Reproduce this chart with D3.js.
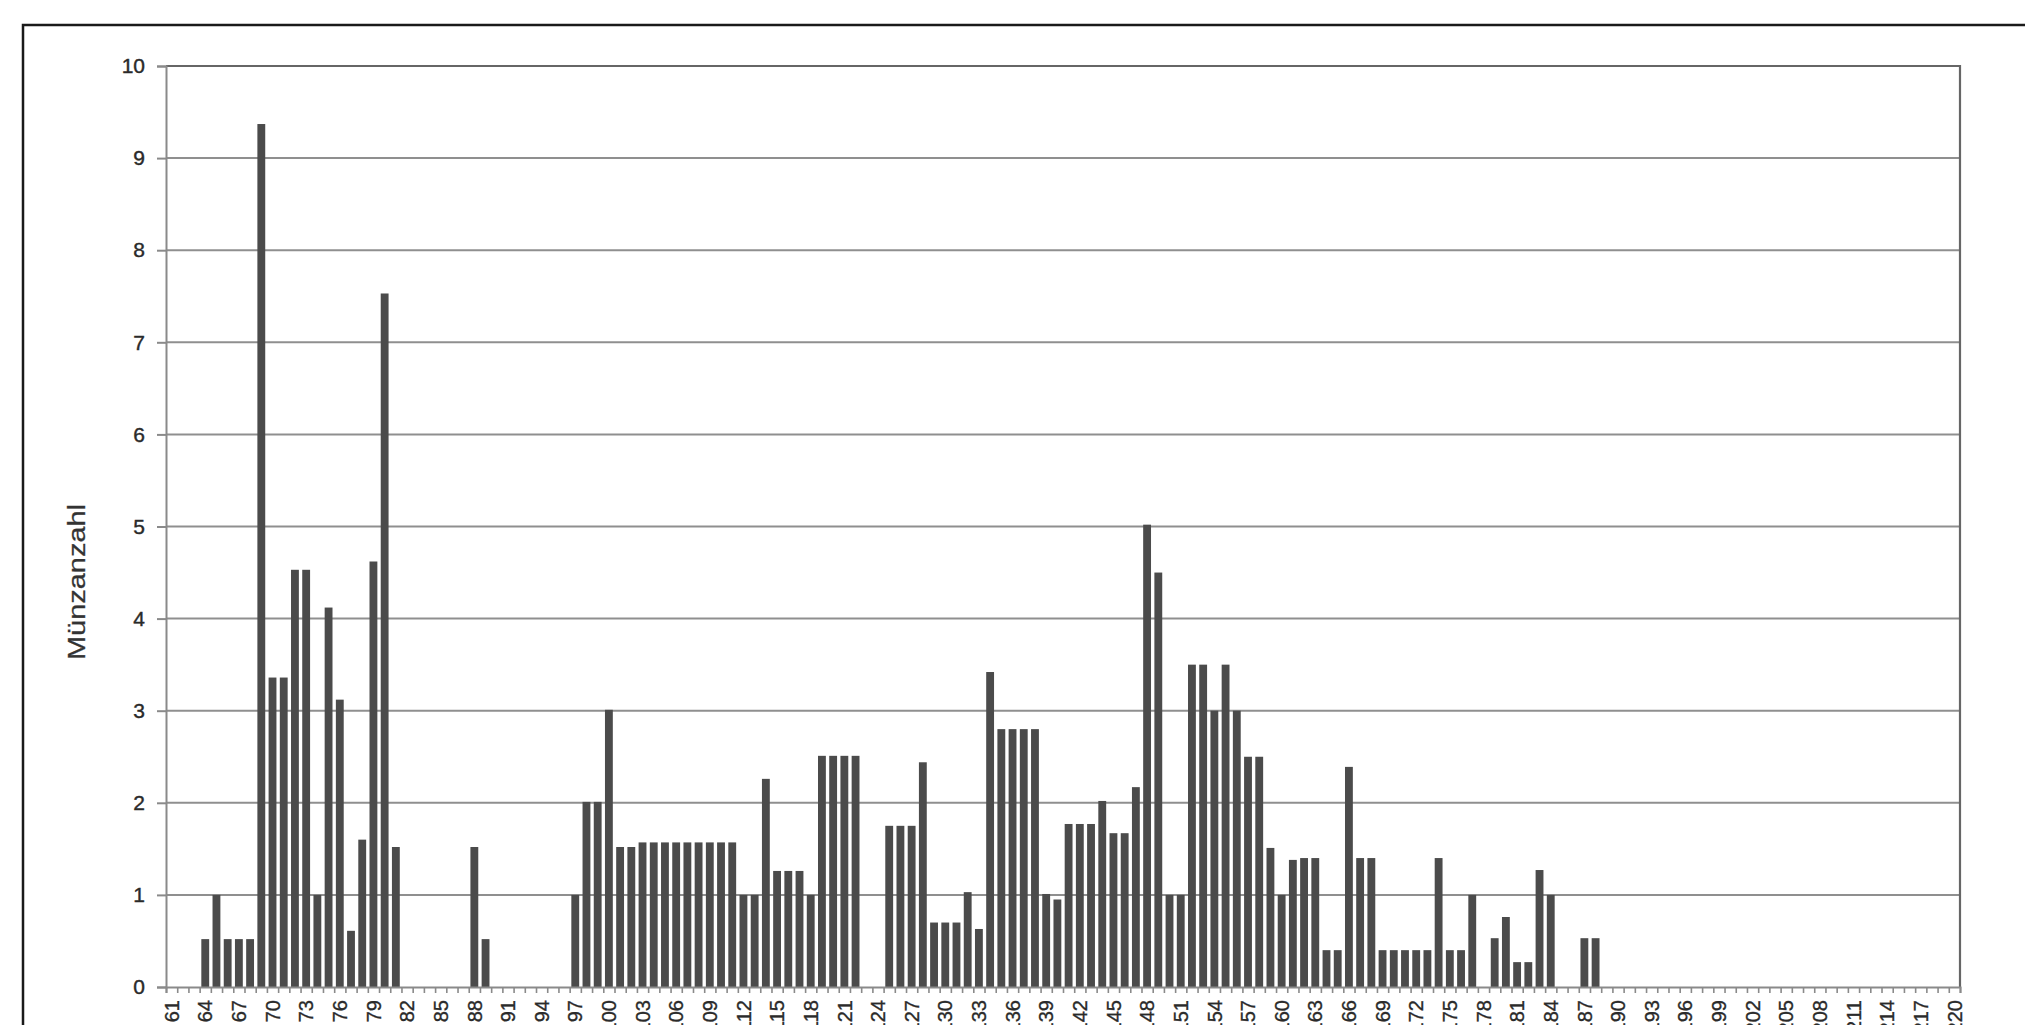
<!DOCTYPE html>
<html>
<head>
<meta charset="utf-8">
<script src="https://cdn.jsdelivr.net/npm/d3@7"></script>
<style>
  html, body { margin: 0; padding: 0; background: #fff; overflow: hidden; }
  svg { display: block; }
  text { font-family: "Liberation Sans", Arial, sans-serif; }
</style>
</head>
<body>
<svg id="chart" width="2025" height="1025"></svg>
<script>
// Categories: years 61 .. 220
const years = d3.range(61, 221);

// Münzanzahl per year, rows of ten years
const coinCounts = [
  0, 0, 0, 0.52, 1.0, 0.52, 0.52, 0.52, 9.37, 3.36,          // 61-70
  3.36, 4.53, 4.53, 1.0, 4.12, 3.12, 0.61, 1.6, 4.62, 7.53,  // 71-80
  1.52, 0, 0, 0, 0, 0, 0, 1.52, 0.52, 0,                     // 81-90
  0, 0, 0, 0, 0, 0, 1.0, 2.01, 2.01, 3.01,                   // 91-100
  1.52, 1.52, 1.57, 1.57, 1.57, 1.57, 1.57, 1.57, 1.57, 1.57,// 101-110
  1.57, 1.0, 1.0, 2.26, 1.26, 1.26, 1.26, 1.0, 2.51, 2.51,   // 111-120
  2.51, 2.51, 0, 0, 1.75, 1.75, 1.75, 2.44, 0.7, 0.7,        // 121-130
  0.7, 1.03, 0.63, 3.42, 2.8, 2.8, 2.8, 2.8, 1.01, 0.95,     // 131-140
  1.77, 1.77, 1.77, 2.02, 1.67, 1.67, 2.17, 5.02, 4.5, 1.0,  // 141-150
  1.0, 3.5, 3.5, 3.0, 3.5, 3.0, 2.5, 2.5, 1.51, 1.0,         // 151-160
  1.38, 1.4, 1.4, 0.4, 0.4, 2.39, 1.4, 1.4, 0.4, 0.4,        // 161-170
  0.4, 0.4, 0.4, 1.4, 0.4, 0.4, 1.0, 0, 0.53, 0.76,          // 171-180
  0.27, 0.27, 1.27, 1.0, 0, 0, 0.53, 0.53, 0, 0,             // 181-190
  0, 0, 0, 0, 0, 0, 0, 0, 0, 0,                              // 191-200
  0, 0, 0, 0, 0, 0, 0, 0, 0, 0,                              // 201-210
  0, 0, 0, 0, 0, 0, 0, 0, 0, 0                               // 211-220
];

// Labelled years on the x axis (every third year)
const labelYears = [61, 64, 67, 70, 73, 76, 79, 82, 85, 88, 91, 94, 97, 100, 103, 106,
  109, 112, 115, 118, 121, 124, 127, 130, 133, 136, 139, 142, 145, 148, 151, 154, 157,
  160, 163, 166, 169, 172, 175, 178, 181, 184, 187, 190, 193, 196, 199, 202, 205, 208,
  211, 214, 217, 220];
const yTicks = [0, 1, 2, 3, 4, 5, 6, 7, 8, 9, 10];
const yTitle = "Münzanzahl";

const data = years.map((yr, i) => ({ year: yr, value: coinCounts[i] }));

const svg = d3.select("#chart");
const plotLeft = 166, plotRight = 1960, plotTop = 66, plotBottom = 987;

// outer chart border
svg.append("rect")
  .attr("x", 23).attr("y", 25).attr("width", 2040).attr("height", 1100)
  .attr("fill", "#fff").attr("stroke", "#1a1a1a").attr("stroke-width", 2.5);

const x = d3.scaleBand()
  .domain(years)
  .range([plotLeft, plotRight])
  .paddingInner(0.3)
  .paddingOuter(0.15);

const xEdges = d3.scaleLinear().domain([61, 221]).range([plotLeft, plotRight]);

const y = d3.scaleLinear().domain([0, 10]).range([plotBottom, plotTop]);

// gridlines
svg.append("g")
  .selectAll("line")
  .data(yTicks.filter(t => t > 0 && t < 10))
  .join("line")
  .attr("x1", plotLeft).attr("x2", plotRight)
  .attr("y1", d => y(d)).attr("y2", d => y(d))
  .attr("stroke", "#8f8f8f").attr("stroke-width", 2);

// plot frame (top and right)
svg.append("path")
  .attr("d", `M${plotLeft},${y(10)}H${plotRight}V${y(0)}`)
  .attr("fill", "none").attr("stroke", "#666").attr("stroke-width", 2.2);

// bars
svg.append("g")
  .selectAll("rect")
  .data(data.filter(d => d.value > 0))
  .join("rect")
  .attr("x", d => x(d.year))
  .attr("width", x.bandwidth())
  .attr("y", d => y(d.value))
  .attr("height", d => y(0) - y(d.value))
  .attr("fill", "#4b4b4b");

// y axis
const yAxis = svg.append("g")
  .attr("transform", `translate(${plotLeft},0)`)
  .call(d3.axisLeft(y).tickValues(yTicks).tickSize(9).tickPadding(12).tickFormat(d3.format("d")));
yAxis.select(".domain").attr("stroke", "#8a8a8a").attr("stroke-width", 2);
yAxis.selectAll(".tick line").attr("stroke", "#8a8a8a").attr("stroke-width", 2);
yAxis.selectAll(".tick text")
  .attr("font-size", 21).attr("fill", "#2a2a2a")
  .attr("stroke", "#2a2a2a").attr("stroke-width", 0.4)
  .attr("font-family", "Liberation Sans, Arial, sans-serif");

// x axis: boundary ticks
const xTicks = svg.append("g")
  .attr("transform", `translate(0,${plotBottom})`)
  .call(d3.axisBottom(xEdges).tickValues(d3.range(61, 222)).tickSize(6).tickFormat(""));
xTicks.select(".domain").attr("stroke", "#8a8a8a").attr("stroke-width", 2);
xTicks.selectAll(".tick line").attr("stroke", "#8a8a8a").attr("stroke-width", 1.6);

// x axis: labels (rotated; the page edge crops the longer ones, as in the reference)
const xLabels = svg.append("g")
  .attr("transform", `translate(0,${plotBottom})`)
  .call(d3.axisBottom(x).tickValues(labelYears).tickSize(0).tickFormat(d => String(d)));
xLabels.select(".domain").remove();
xLabels.selectAll(".tick text")
  .attr("transform", "rotate(-90)")
  .attr("text-anchor", "end")
  .attr("x", -13).attr("y", 0).attr("dy", "0.36em")
  .attr("font-size", 20).attr("fill", "#2a2a2a")
  .attr("stroke", "#2a2a2a").attr("stroke-width", 0.35)
  .attr("font-family", "Liberation Sans, Arial, sans-serif");

// y axis title
svg.append("text")
  .attr("transform", `translate(85,582) rotate(-90)`)
  .attr("text-anchor", "middle")
  .attr("font-size", 23)
  .attr("fill", "#333")
  .attr("stroke", "#333").attr("stroke-width", 0.25)
  .attr("textLength", 156)
  .attr("lengthAdjust", "spacingAndGlyphs")
  .text(yTitle);
</script>
</body>
</html>
